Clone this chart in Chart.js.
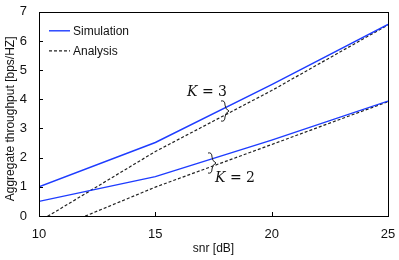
<!DOCTYPE html>
<html>
<head>
<meta charset="utf-8">
<script src="https://cdn.jsdelivr.net/npm/chart.js@4"></script>
<style>
  html,body{margin:0;padding:0;background:#fff;}
  canvas{display:block;}
</style>
</head>
<body>
<canvas id="chart" width="399" height="260"></canvas>
<script>
// values
var snr=[10,15,20,25];
var simK3=[1.0,2.52,4.5,6.57];
var simK2=[0.5,1.35,2.6,3.94];
var anaK3=[-0.19,2.21,4.3,6.55];
var anaK2=[-0.66,0.99,2.45,3.92];
var xTicks=[10,15,20,25];
var yTicks=[0,1,2,3,4,5,6,7];

var blue="rgb(30,60,255)";
var fontFam="'Liberation Sans', Arial, sans-serif";

function pts(ys){
    return snr.map(function(x,i){return {x:x,y:ys[i]};});
}

function sim(lbl,ys){
    return {label:lbl,data:pts(ys),borderColor:blue,borderWidth:1.4,pointRadius:0,fill:false,tension:0};
}
function ana(lbl,ys){
    return {label:lbl,data:pts(ys),borderColor:"#222",borderWidth:1.2,borderDash:[3,2],pointRadius:0,fill:false,tension:0};
}

// box, inward ticks, y title, legend and K labels
var extras={
    id:"extras",
    afterDraw:function(chart){
        var ctx=chart.ctx, a=chart.chartArea, x=chart.scales.x, y=chart.scales.y;
        ctx.save();
        ctx.strokeStyle="#000";
        ctx.lineWidth=1;
        ctx.setLineDash([]);
        ctx.strokeRect(Math.round(a.left)+0.5,Math.round(a.top)+0.5,Math.round(a.right-a.left),Math.round(a.bottom-a.top));
        ctx.beginPath();
        xTicks.forEach(function(v){
            var px=Math.round(x.getPixelForValue(v))+0.5;
            ctx.moveTo(px,a.bottom);ctx.lineTo(px,a.bottom-4);
        });
        yTicks.forEach(function(v){
            var py=Math.round(y.getPixelForValue(v))+0.5;
            ctx.moveTo(a.left,py);ctx.lineTo(a.left+4,py);
        });
        ctx.stroke();

        // y axis title
        ctx.save();
        ctx.translate(11,(a.top+a.bottom)/2+5);
        ctx.rotate(-Math.PI/2);
        ctx.font="12px "+fontFam;
        ctx.fillStyle="#111";
        ctx.textAlign="center";
        ctx.textBaseline="middle";
        ctx.fillText("Aggregate throughput [bps/HZ]",0,0);
        ctx.restore();

        // legend
        var ds=chart.data.datasets;
        var items=[ds[0],ds[2]];
        ctx.font="12px "+fontFam;
        ctx.textBaseline="middle";
        ctx.fillStyle="#111";
        items.forEach(function(d,i){
            var ly=a.top+19+i*20;
            ctx.beginPath();
            ctx.strokeStyle=d.borderColor;
            ctx.lineWidth=d.borderWidth;
            ctx.setLineDash(d.borderDash||[]);
            ctx.moveTo(a.left+10,ly);ctx.lineTo(a.left+31,ly);
            ctx.stroke();
            ctx.setLineDash([]);
            ctx.fillText(i==0?"Simulation":"Analysis",a.left+34,ly+1);
        });

        // K labels with braces
        function klabel(txt,lx,ly){
            ctx.fillStyle="#111";
            ctx.textBaseline="middle";
            ctx.font="italic 14px 'DejaVu Serif', serif";
            ctx.fillText("K",lx,ly);
            var w=ctx.measureText("K").width;
            ctx.font="14px 'DejaVu Serif', serif";
            ctx.fillText(txt,lx+w,ly);
        }
        function brace(cx,top,bot){
            var mid=(top+bot)/2;
            ctx.beginPath();
            ctx.strokeStyle="#222";
            ctx.lineWidth=1;
            ctx.setLineDash([]);
            ctx.moveTo(cx-3,top);
            ctx.quadraticCurveTo(cx+1,top-1,cx+1,top+4);
            ctx.quadraticCurveTo(cx+1,mid-2,cx+5,mid);
            ctx.quadraticCurveTo(cx+1,mid+2,cx+1,bot-4);
            ctx.quadraticCurveTo(cx+1,bot+1,cx-3,bot);
            ctx.stroke();
        }
        klabel(" = 3",187,92);
        brace(224,101,121);
        klabel(" = 2",215,178);
        brace(211,153,173);
        ctx.restore();
    }
};

new Chart(document.getElementById("chart").getContext("2d"),{
    type:"line",
    data:{
        datasets:[
            sim("Simulation K=3",simK3),
            sim("Simulation K=2",simK2),
            ana("Analysis K=3",anaK3),
            ana("Analysis K=2",anaK2)
        ]
    },
    options:{
        responsive:false,
        animation:false,
        layout:{padding:{top:10,right:11,left:0,bottom:0}},
        plugins:{legend:{display:false},tooltip:{enabled:false}},
        scales:{
            x:{
                type:"linear",min:10,max:25,
                afterBuildTicks:function(s){s.ticks=xTicks.map(function(v){return {value:v};});},
                afterFit:function(s){s.height=44;},
                grid:{display:false},
                border:{display:false},
                ticks:{color:"#111",padding:3,font:{family:fontFam,size:13},maxRotation:0},
                title:{display:true,text:"snr [dB]",color:"#111",font:{family:fontFam,size:12},padding:{top:4}}
            },
            y:{
                type:"linear",min:0,max:7,
                afterBuildTicks:function(s){s.ticks=yTicks.map(function(v){return {value:v};});},
                afterFit:function(s){s.width=39;},
                grid:{display:false},
                border:{display:false},
                ticks:{color:"#111",padding:4,font:{family:fontFam,size:13}},
                title:{display:false}
            }
        }
    },
    plugins:[extras]
});
</script>
</body>
</html>
